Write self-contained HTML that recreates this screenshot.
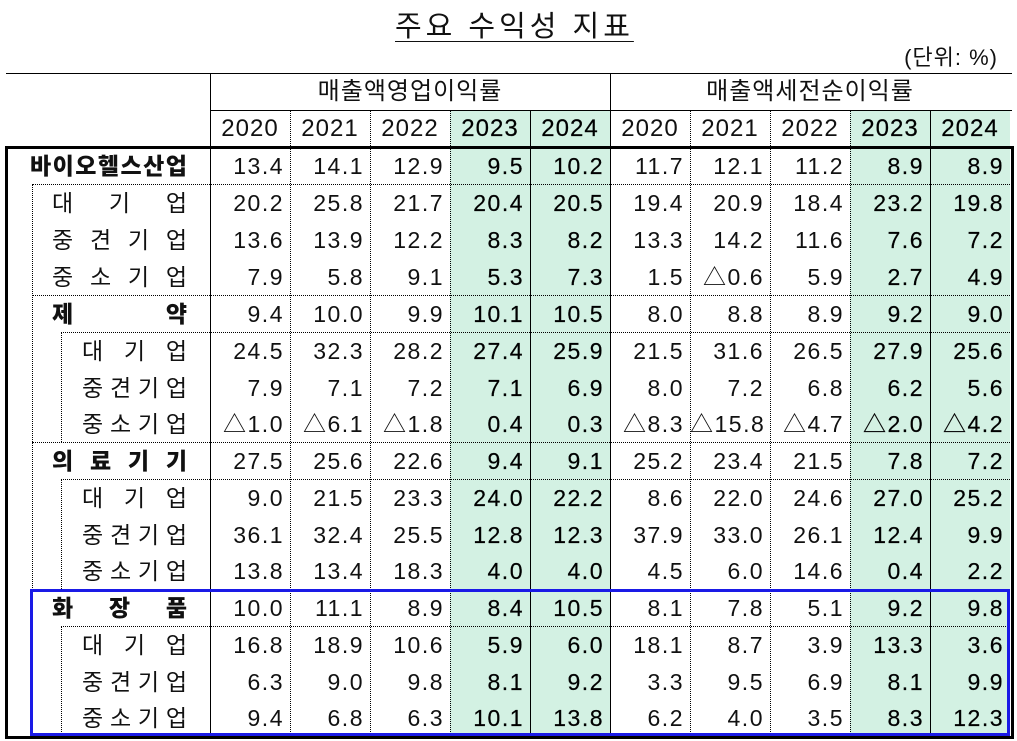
<!DOCTYPE html>
<html><head><meta charset="utf-8">
<style>
body{margin:0;width:1017px;height:741px;background:#fff;position:relative;overflow:hidden;font-family:"Liberation Sans","Noto Sans CJK KR",sans-serif;color:#111}
.a{position:absolute}
.g{position:absolute;background:#d3f1e3}
.h{position:absolute;height:0;border-top:1px solid #000}
.hd{position:absolute;height:0;border-top:1px dotted #000}
.v{position:absolute;width:0;border-left:1px solid #000}
.vd{position:absolute;width:0;border-left:1px dotted #000}
.r{position:absolute;left:0;width:1017px;height:36.8px;line-height:38px;font-size:23px;letter-spacing:1.5px}
.r span{position:absolute;width:74px;text-align:right;top:0}
.r span.b{color:#000;-webkit-text-stroke:0.2px #000}
.lab{position:absolute;top:0;display:flex;justify-content:space-between;letter-spacing:0;font-size:23px}
.y{position:absolute;top:110px;height:37px;line-height:38px;font-size:24px;width:80px;text-align:center;letter-spacing:1px}
.y.b{color:#000;-webkit-text-stroke:0.2px #000}
</style></head><body>
<div class="a" style="left:395px;top:3px;font-size:29px;letter-spacing:4px;text-decoration:underline;text-underline-offset:5px;text-decoration-thickness:1px;">주요 수익성 지표</div>
<div class="a" style="left:860px;top:40px;font-size:22px;letter-spacing:1px;width:138px;text-align:right;">(단위: %)</div>

<div class="g" style="left:450px;top:110px;width:160px;height:627px"></div>
<div class="g" style="left:850px;top:110px;width:160px;height:627px"></div>

<div class="h" style="left:6px;top:73px;width:1006px"></div>
<div class="h" style="left:210px;top:110px;width:802px"></div>
<div class="a" style="left:210px;top:73px;width:400px;height:37px;line-height:38px;text-align:center;font-size:24px;letter-spacing:1px">매출액영업이익률</div>
<div class="a" style="left:610px;top:73px;width:400px;height:37px;line-height:38px;text-align:center;font-size:24px;letter-spacing:1px">매출액세전순이익률</div>
<div class="y" style="left:210px">2020</div><div class="y" style="left:290px">2021</div><div class="y" style="left:370px">2022</div><div class="y b" style="left:450px">2023</div><div class="y b" style="left:530px">2024</div>
<div class="y" style="left:610px">2020</div><div class="y" style="left:690px">2021</div><div class="y" style="left:770px">2022</div><div class="y b" style="left:850px">2023</div><div class="y b" style="left:930px">2024</div>

<div class="v" style="left:210px;top:73px;height:665px"></div>
<div class="v" style="left:610px;top:73px;height:665px"></div>
<div class="vd" style="left:290px;top:110px;height:628px"></div>
<div class="vd" style="left:370px;top:110px;height:628px"></div>
<div class="vd" style="left:450px;top:110px;height:628px"></div>
<div class="v" style="left:530px;top:110px;height:628px"></div>
<div class="vd" style="left:690px;top:110px;height:628px"></div>
<div class="vd" style="left:770px;top:110px;height:628px"></div>
<div class="vd" style="left:850px;top:110px;height:628px"></div>
<div class="v" style="left:930px;top:110px;height:628px"></div>
<div class="vd" style="left:32px;top:184px;height:552px"></div>
<div class="vd" style="left:61px;top:332px;height:110px"></div>
<div class="vd" style="left:61px;top:479px;height:110px"></div>
<div class="vd" style="left:61px;top:626px;height:110px"></div>

<div class="hd" style="left:32px;top:184px;width:978px"></div>
<div class="hd" style="left:32px;top:295px;width:978px"></div>
<div class="hd" style="left:61px;top:332px;width:949px"></div>
<div class="hd" style="left:32px;top:442px;width:978px"></div>
<div class="hd" style="left:61px;top:479px;width:949px"></div>
<div class="hd" style="left:61px;top:626px;width:949px"></div>

<div class="a" style="left:5px;top:146px;width:1003px;height:587px;border:3px solid #000"></div>
<div class="a" style="left:30px;top:589px;width:974px;height:141px;border:3px solid #1a1ae6"></div>

<div class="r" style="top:147px"><div class="lab" style="left:30px;width:157px;font-weight:bold"><b>바</b><b>이</b><b>오</b><b>헬</b><b>스</b><b>산</b><b>업</b></div>
<span style="left:210px">13.4</span><span style="left:290px">14.1</span><span style="left:370px">12.9</span><span class="b" style="left:450px">9.5</span><span class="b" style="left:530px">10.2</span><span style="left:610px">11.7</span><span style="left:690px">12.1</span><span style="left:770px">11.2</span><span class="b" style="left:850px">8.9</span><span class="b" style="left:930px">8.9</span></div>
<div class="r" style="top:184px"><div class="lab" style="left:52px;width:135px"><i style="font-style:normal">대</i><i style="font-style:normal">기</i><i style="font-style:normal">업</i></div>
<span style="left:210px">20.2</span><span style="left:290px">25.8</span><span style="left:370px">21.7</span><span class="b" style="left:450px">20.4</span><span class="b" style="left:530px">20.5</span><span style="left:610px">19.4</span><span style="left:690px">20.9</span><span style="left:770px">18.4</span><span class="b" style="left:850px">23.2</span><span class="b" style="left:930px">19.8</span></div>
<div class="r" style="top:221px"><div class="lab" style="left:52px;width:135px"><i style="font-style:normal">중</i><i style="font-style:normal">견</i><i style="font-style:normal">기</i><i style="font-style:normal">업</i></div>
<span style="left:210px">13.6</span><span style="left:290px">13.9</span><span style="left:370px">12.2</span><span class="b" style="left:450px">8.3</span><span class="b" style="left:530px">8.2</span><span style="left:610px">13.3</span><span style="left:690px">14.2</span><span style="left:770px">11.6</span><span class="b" style="left:850px">7.6</span><span class="b" style="left:930px">7.2</span></div>
<div class="r" style="top:258px"><div class="lab" style="left:52px;width:135px"><i style="font-style:normal">중</i><i style="font-style:normal">소</i><i style="font-style:normal">기</i><i style="font-style:normal">업</i></div>
<span style="left:210px">7.9</span><span style="left:290px">5.8</span><span style="left:370px">9.1</span><span class="b" style="left:450px">5.3</span><span class="b" style="left:530px">7.3</span><span style="left:610px">1.5</span><span style="left:690px">△0.6</span><span style="left:770px">5.9</span><span class="b" style="left:850px">2.7</span><span class="b" style="left:930px">4.9</span></div>

<div class="r" style="top:295px"><div class="lab" style="left:52px;width:135px;font-weight:bold"><b>제</b><b>약</b></div>
<span style="left:210px">9.4</span><span style="left:290px">10.0</span><span style="left:370px">9.9</span><span class="b" style="left:450px">10.1</span><span class="b" style="left:530px">10.5</span><span style="left:610px">8.0</span><span style="left:690px">8.8</span><span style="left:770px">8.9</span><span class="b" style="left:850px">9.2</span><span class="b" style="left:930px">9.0</span></div>
<div class="r" style="top:332px"><div class="lab" style="left:82px;width:105px"><i style="font-style:normal">대</i><i style="font-style:normal">기</i><i style="font-style:normal">업</i></div>
<span style="left:210px">24.5</span><span style="left:290px">32.3</span><span style="left:370px">28.2</span><span class="b" style="left:450px">27.4</span><span class="b" style="left:530px">25.9</span><span style="left:610px">21.5</span><span style="left:690px">31.6</span><span style="left:770px">26.5</span><span class="b" style="left:850px">27.9</span><span class="b" style="left:930px">25.6</span></div>
<div class="r" style="top:369px"><div class="lab" style="left:82px;width:105px"><i style="font-style:normal">중</i><i style="font-style:normal">견</i><i style="font-style:normal">기</i><i style="font-style:normal">업</i></div>
<span style="left:210px">7.9</span><span style="left:290px">7.1</span><span style="left:370px">7.2</span><span class="b" style="left:450px">7.1</span><span class="b" style="left:530px">6.9</span><span style="left:610px">8.0</span><span style="left:690px">7.2</span><span style="left:770px">6.8</span><span class="b" style="left:850px">6.2</span><span class="b" style="left:930px">5.6</span></div>
<div class="r" style="top:405px"><div class="lab" style="left:82px;width:105px"><i style="font-style:normal">중</i><i style="font-style:normal">소</i><i style="font-style:normal">기</i><i style="font-style:normal">업</i></div>
<span style="left:210px">△1.0</span><span style="left:290px">△6.1</span><span style="left:370px">△1.8</span><span class="b" style="left:450px">0.4</span><span class="b" style="left:530px">0.3</span><span style="left:610px">△8.3</span><span style="left:690px">△15.8</span><span style="left:770px">△4.7</span><span class="b" style="left:850px">△2.0</span><span class="b" style="left:930px">△4.2</span></div>

<div class="r" style="top:442px"><div class="lab" style="left:52px;width:135px;font-weight:bold"><b>의</b><b>료</b><b>기</b><b>기</b></div>
<span style="left:210px">27.5</span><span style="left:290px">25.6</span><span style="left:370px">22.6</span><span class="b" style="left:450px">9.4</span><span class="b" style="left:530px">9.1</span><span style="left:610px">25.2</span><span style="left:690px">23.4</span><span style="left:770px">21.5</span><span class="b" style="left:850px">7.8</span><span class="b" style="left:930px">7.2</span></div>
<div class="r" style="top:479px"><div class="lab" style="left:82px;width:105px"><i style="font-style:normal">대</i><i style="font-style:normal">기</i><i style="font-style:normal">업</i></div>
<span style="left:210px">9.0</span><span style="left:290px">21.5</span><span style="left:370px">23.3</span><span class="b" style="left:450px">24.0</span><span class="b" style="left:530px">22.2</span><span style="left:610px">8.6</span><span style="left:690px">22.0</span><span style="left:770px">24.6</span><span class="b" style="left:850px">27.0</span><span class="b" style="left:930px">25.2</span></div>
<div class="r" style="top:516px"><div class="lab" style="left:82px;width:105px"><i style="font-style:normal">중</i><i style="font-style:normal">견</i><i style="font-style:normal">기</i><i style="font-style:normal">업</i></div>
<span style="left:210px">36.1</span><span style="left:290px">32.4</span><span style="left:370px">25.5</span><span class="b" style="left:450px">12.8</span><span class="b" style="left:530px">12.3</span><span style="left:610px">37.9</span><span style="left:690px">33.0</span><span style="left:770px">26.1</span><span class="b" style="left:850px">12.4</span><span class="b" style="left:930px">9.9</span></div>
<div class="r" style="top:552px"><div class="lab" style="left:82px;width:105px"><i style="font-style:normal">중</i><i style="font-style:normal">소</i><i style="font-style:normal">기</i><i style="font-style:normal">업</i></div>
<span style="left:210px">13.8</span><span style="left:290px">13.4</span><span style="left:370px">18.3</span><span class="b" style="left:450px">4.0</span><span class="b" style="left:530px">4.0</span><span style="left:610px">4.5</span><span style="left:690px">6.0</span><span style="left:770px">14.6</span><span class="b" style="left:850px">0.4</span><span class="b" style="left:930px">2.2</span></div>

<div class="r" style="top:589px"><div class="lab" style="left:52px;width:135px;font-weight:bold"><b>화</b><b>장</b><b>품</b></div>
<span style="left:210px">10.0</span><span style="left:290px">11.1</span><span style="left:370px">8.9</span><span class="b" style="left:450px">8.4</span><span class="b" style="left:530px">10.5</span><span style="left:610px">8.1</span><span style="left:690px">7.8</span><span style="left:770px">5.1</span><span class="b" style="left:850px">9.2</span><span class="b" style="left:930px">9.8</span></div>
<div class="r" style="top:626px"><div class="lab" style="left:82px;width:105px"><i style="font-style:normal">대</i><i style="font-style:normal">기</i><i style="font-style:normal">업</i></div>
<span style="left:210px">16.8</span><span style="left:290px">18.9</span><span style="left:370px">10.6</span><span class="b" style="left:450px">5.9</span><span class="b" style="left:530px">6.0</span><span style="left:610px">18.1</span><span style="left:690px">8.7</span><span style="left:770px">3.9</span><span class="b" style="left:850px">13.3</span><span class="b" style="left:930px">3.6</span></div>
<div class="r" style="top:663px"><div class="lab" style="left:82px;width:105px"><i style="font-style:normal">중</i><i style="font-style:normal">견</i><i style="font-style:normal">기</i><i style="font-style:normal">업</i></div>
<span style="left:210px">6.3</span><span style="left:290px">9.0</span><span style="left:370px">9.8</span><span class="b" style="left:450px">8.1</span><span class="b" style="left:530px">9.2</span><span style="left:610px">3.3</span><span style="left:690px">9.5</span><span style="left:770px">6.9</span><span class="b" style="left:850px">8.1</span><span class="b" style="left:930px">9.9</span></div>
<div class="r" style="top:699px"><div class="lab" style="left:82px;width:105px"><i style="font-style:normal">중</i><i style="font-style:normal">소</i><i style="font-style:normal">기</i><i style="font-style:normal">업</i></div>
<span style="left:210px">9.4</span><span style="left:290px">6.8</span><span style="left:370px">6.3</span><span class="b" style="left:450px">10.1</span><span class="b" style="left:530px">13.8</span><span style="left:610px">6.2</span><span style="left:690px">4.0</span><span style="left:770px">3.5</span><span class="b" style="left:850px">8.3</span><span class="b" style="left:930px">12.3</span></div>
</body></html>
